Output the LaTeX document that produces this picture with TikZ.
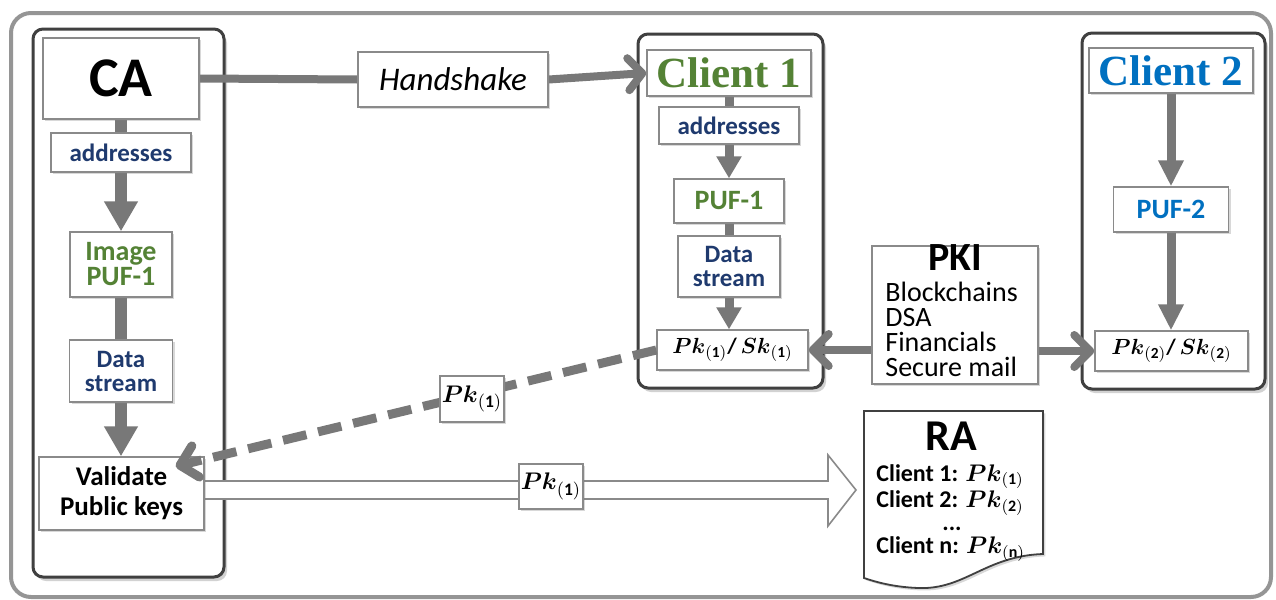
\documentclass[tikz,border=0pt]{standalone}
\usepackage{amsmath}
\usepackage{fontspec}
\setmainfont{Carlito}
\newfontfamily\serifb{Liberation Serif}
\usetikzlibrary{arrows.meta,shadows,calc}
\definecolor{navy}{HTML}{1F3A6E}
\definecolor{pgreen}{HTML}{548235}
\definecolor{pblue}{HTML}{0070C0}
\definecolor{cgray}{HTML}{787878}
\definecolor{bgray}{HTML}{8A8A8A}
\definecolor{kgray}{HTML}{404040}
\definecolor{fgray}{HTML}{959595}
\pgfdeclarelayer{back}\pgfdeclarelayer{mid}\pgfsetlayers{back,mid,main}
\newcommand{\fs}[2]{\fontsize{#1}{#2}\selectfont}
\newcommand{\pkm}[1]{$\boldsymbol{Pk}_{(\mathbf{#1})}$}
\tikzset{
  box/.style={draw=bgray, line width=0.7pt, fill=white, inner sep=0pt, align=center,
    drop shadow={shadow xshift=1.2pt,shadow yshift=-1.2pt,opacity=0.3}},
  cont/.style={draw=kgray, line width=1.5pt, rounded corners=5pt, fill=white,
    drop shadow={shadow xshift=1.5pt,shadow yshift=-2pt,opacity=0.35}},
  bigcol/.style={draw=cgray, line width=6pt},
  smcol/.style={draw=cgray, line width=4.5pt},
  bighead/.style={-{Triangle[length=15pt,width=16pt]}},
  smhead/.style={-{Triangle[length=11pt,width=12pt]}},
  hsline/.style={draw=cgray, line width=4pt},
  barb/.style={-{Straight Barb[round,length=7pt,width=16pt]}},
  dashline/.style={draw=cgray, line width=4.5pt, dash pattern=on 12pt off 6pt},
  navytxt/.style={text=navy, font=\fs{12.5}{12}\bfseries},
  greentxt/.style={text=pgreen, font=\fs{14}{12.5}\bfseries},
}
\begin{document}
\begin{tikzpicture}[x=0.5pt,y=-0.5pt]
\useasboundingbox (0,0) rectangle (1276,600);
% frame and containers
\begin{pgfonlayer}{back}
  \draw[draw=fgray, line width=2pt, rounded corners=10pt, fill=white] (11,13) rectangle (1271,597);
  \draw[cont] (33,29) rectangle (224,577);
  \draw[cont] (638,34) rectangle (823,388);
  \draw[cont] (1082,33) rectangle (1265,389);
\end{pgfonlayer}

% CA column
\node[box, minimum width=78pt, minimum height=40.5pt, font=\fs{28}{28}\bfseries] (ca) at (121,78.5) {CA};
\node[box, minimum width=70pt, minimum height=19.5pt, navytxt] (addr0) at (121,152.5) {addresses};
\node[box, minimum width=51pt, minimum height=32.5pt, greentxt] (img) at (121,264.5) {Image\\PUF-1};
\node[box, minimum width=51.5pt, minimum height=31pt, navytxt] (ds0) at (121,371) {Data\\stream};
\node[box, minimum width=82.5pt, minimum height=36.5pt, font=\fs{13.5}{15}\bfseries] (val) at (121.5,493.5) {Validate\\Public keys};

% handshake
\node[box, minimum width=95pt, minimum height=27.5pt, font=\fs{16.5}{16}\itshape] (hs) at (453,79.5) {Handshake};

% Client 1 column
\node[box, minimum width=82pt, minimum height=23pt, text=pgreen, font=\fs{21.5}{21}\serifb\bfseries] (c1) at (729,73) {Client 1};
\node[box, minimum width=70pt, minimum height=18.5pt, navytxt] (addr1) at (729,125.5) {addresses};
\node[box, minimum width=55pt, minimum height=22pt, greentxt] (puf1) at (729,201) {PUF-1};
\node[box, minimum width=51pt, minimum height=30.5pt, navytxt] (ds1) at (729,266.5) {Data\\stream};
\node[box, minimum width=75.5pt, minimum height=20pt, font=\fs{11}{12}\bfseries] (pksk1) at (732.5,350)
  {$\boldsymbol{Pk}_{(\mathbf{1})}$\textbf{/}\,$\boldsymbol{Sk}_{(\mathbf{1})}$};

% PKI
\node[box, minimum width=83pt, minimum height=69pt] (pki) at (955,315) {};
\node[inner sep=0pt, font=\fs{20}{20}\bfseries] (pkititle) at (955,258) {PKI};
\node[inner sep=0pt, anchor=north west, align=left, font=\fs{14}{12.5}] (pkilist) at (885,282)
  {Blockchains\\DSA\\Financials\\Secure mail};

% Client 2 column
\node[box, minimum width=82pt, minimum height=22.5pt, text=pblue, font=\fs{21.5}{21}\serifb\bfseries] (c2) at (1171,70.5) {Client 2};
\node[box, minimum width=57.5pt, minimum height=22.5pt, text=pblue, font=\fs{14}{11}\bfseries] (puf2) at (1171,209.5) {PUF-2};
\node[box, minimum width=76.5pt, minimum height=20pt, font=\fs{11}{12}\bfseries] (pksk2) at (1171.5,351)
  {$\boldsymbol{Pk}_{(\mathbf{2})}$\textbf{/}\,$\boldsymbol{Sk}_{(\mathbf{2})}$};

% RA document
\begin{pgfonlayer}{back}
  \draw[draw=kgray, line width=0.9pt, fill=white,
        drop shadow={shadow xshift=1.2pt,shadow yshift=-1.2pt,opacity=0.3}]
    (864,411) -- (1043,411) -- (1043,554)
    .. controls (985,556) and (965,590) .. (918,588)
    .. controls (893,587) and (876,582) .. (864,578) -- cycle;
\end{pgfonlayer}
\node[inner sep=0pt, font=\fs{22}{22}\bfseries] (ratitle) at (951,436) {RA};
\node[inner sep=0pt, anchor=north west, align=left, font=\fs{12}{11.5}\bfseries] (ralist) at (876,464)
  {Client 1: \pkm{1}\\Client 2: \pkm{2}\\\hspace*{33pt}...\\Client n: $\boldsymbol{Pk}_{(\mathbf{n})}$};

% connectors
\coordinate (vtip) at ($(val.north east)+(-29,10)$);
\coordinate (wa) at (204,490);
\coordinate (ratip) at (856,490);
\begin{pgfonlayer}{mid}
  \draw[bigcol] (ca.south) -- (addr0.north);
  \draw[bigcol, bighead] (addr0.south) -- (img.north);
  \draw[bigcol] (img.south) -- (ds0.north);
  \draw[bigcol, bighead] (ds0.south) -- (val.north -| ds0.south);

  \draw[smcol] (c1.south) -- (addr1.north);
  \draw[smcol, smhead] (addr1.south) -- (puf1.north);
  \draw[smcol] (puf1.south) -- (ds1.north);
  \draw[smcol, smhead] (ds1.south) -- (pksk1.north -| ds1.south);

  \draw[smcol, -{Triangle[length=13pt,width=12pt]}] (c2.south) -- (puf2.north);
  \draw[smcol, -{Triangle[length=13pt,width=12pt]}] (puf2.south) -- (pksk2.north -| puf2.south);

  \draw[hsline] (ca.east) -- (hs.west);
  \draw[hsline, barb] (hs.east) -- (c1.west);

  \draw[hsline, -{Straight Barb[round,length=8pt,width=16pt]}] (pksk1.east -| pki.west) -- (pksk1.east);
  \draw[hsline, -{Straight Barb[round,length=8pt,width=16pt]}] (pksk2.west -| pki.east) -- (pksk2.west);

  \draw[draw=bgray, line width=0.8pt, fill=white]
    ($(wa)+(0,-9)$) -- ($(ratip)+(-28,-9)$) -- ($(ratip)+(-28,-35)$) -- (ratip)
    -- ($(ratip)+(-28,36)$) -- ($(ratip)+(-28,9)$) -- ($(wa)+(0,9)$);
\end{pgfonlayer}

% dashed arrow on top of the Validate box, label drawn over it
\draw[dashline, -{Straight Barb[round,length=8pt,width=16pt]}] (pksk1.west) -- (vtip);

% Pk labels
\node[box, minimum width=32pt, minimum height=23pt, font=\fs{12.5}{12}] (pkd) at (472,399) {\pkm{1}};
\node[box, minimum width=32pt, minimum height=22.5pt, font=\fs{12.5}{12}] (pkw) at (551,486.5) {\pkm{1}};
\end{tikzpicture}
\end{document}
